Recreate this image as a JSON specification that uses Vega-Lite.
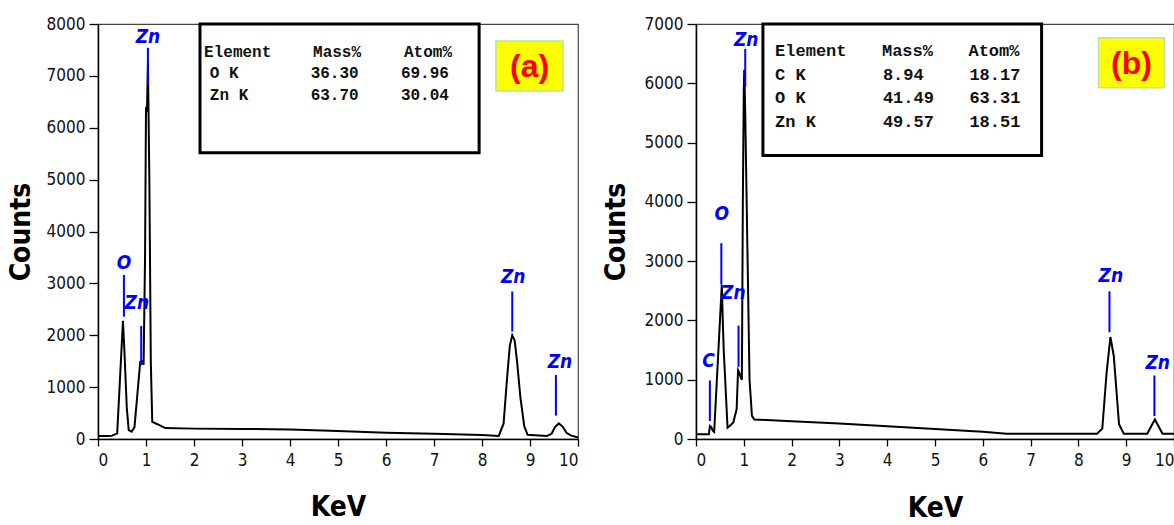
{
  "$schema": "https://vega.github.io/schema/vega-lite/v6.json",
  "background": "white",
  "padding": {"left": 6, "top": 14, "right": 0, "bottom": 0},
  "spacing": 18,
  "config": {
    "view": {"stroke": "#444", "strokeWidth": 1.2},
    "axis": {
      "grid": false,
      "domainColor": "#000",
      "domainWidth": 1.5,
      "tickColor": "#000",
      "tickWidth": 1.3,
      "labelFont": "DejaVu Sans Condensed",
      "labelFontSize": 17,
      "labelColor": "#111",
      "titleFont": "DejaVu Sans Condensed",
      "titleFontWeight": "bold",
      "titleFontSize": 28,
      "titleColor": "#000"
    }
  },
  "datasets": {
    "specA": [
      {"kev": 0, "counts": 60}, {"kev": 0.2, "counts": 60}, {"kev": 0.3, "counts": 65},
      {"kev": 0.4, "counts": 110}, {"kev": 0.52, "counts": 2280}, {"kev": 0.55, "counts": 1700},
      {"kev": 0.6, "counts": 600}, {"kev": 0.64, "counts": 170}, {"kev": 0.7, "counts": 140},
      {"kev": 0.76, "counts": 230}, {"kev": 0.88, "counts": 1490}, {"kev": 0.92, "counts": 1500},
      {"kev": 0.95, "counts": 1430}, {"kev": 0.98, "counts": 3500}, {"kev": 1.0, "counts": 6400},
      {"kev": 1.02, "counts": 6300}, {"kev": 1.04, "counts": 7250}, {"kev": 1.07, "counts": 5000},
      {"kev": 1.1, "counts": 1500}, {"kev": 1.13, "counts": 330}, {"kev": 1.25, "counts": 280},
      {"kev": 1.4, "counts": 210}, {"kev": 2, "counts": 200}, {"kev": 3, "counts": 195},
      {"kev": 4, "counts": 185}, {"kev": 5, "counts": 155}, {"kev": 6, "counts": 120},
      {"kev": 7, "counts": 100}, {"kev": 8, "counts": 75}, {"kev": 8.35, "counts": 60},
      {"kev": 8.45, "counts": 300}, {"kev": 8.52, "counts": 1150}, {"kev": 8.58, "counts": 1800},
      {"kev": 8.63, "counts": 2000}, {"kev": 8.68, "counts": 1900}, {"kev": 8.73, "counts": 1500},
      {"kev": 8.8, "counts": 800}, {"kev": 8.88, "counts": 250}, {"kev": 8.95, "counts": 80},
      {"kev": 9.35, "counts": 60}, {"kev": 9.45, "counts": 100}, {"kev": 9.52, "counts": 230},
      {"kev": 9.6, "counts": 300}, {"kev": 9.68, "counts": 240}, {"kev": 9.76, "counts": 120},
      {"kev": 9.85, "counts": 70}, {"kev": 10, "counts": 30}
    ],
    "specB": [
      {"kev": 0, "counts": 80}, {"kev": 0.27, "counts": 80}, {"kev": 0.29, "counts": 220},
      {"kev": 0.32, "counts": 200}, {"kev": 0.35, "counts": 140}, {"kev": 0.38, "counts": 120},
      {"kev": 0.54, "counts": 2600}, {"kev": 0.56, "counts": 2000}, {"kev": 0.58, "counts": 1500},
      {"kev": 0.66, "counts": 190}, {"kev": 0.72, "counts": 230}, {"kev": 0.78, "counts": 280},
      {"kev": 0.85, "counts": 500}, {"kev": 0.88, "counts": 1160}, {"kev": 0.9, "counts": 1130},
      {"kev": 0.93, "counts": 1050}, {"kev": 0.96, "counts": 1000}, {"kev": 0.98, "counts": 4000},
      {"kev": 1.0, "counts": 5900}, {"kev": 1.01, "counts": 6230}, {"kev": 1.03, "counts": 5500},
      {"kev": 1.08, "counts": 3000}, {"kev": 1.12, "counts": 1000}, {"kev": 1.17, "counts": 390},
      {"kev": 1.22, "counts": 330}, {"kev": 2, "counts": 300}, {"kev": 3, "counts": 260},
      {"kev": 4, "counts": 215}, {"kev": 5, "counts": 170}, {"kev": 6, "counts": 123},
      {"kev": 6.5, "counts": 90}, {"kev": 8.39, "counts": 90}, {"kev": 8.5, "counts": 175},
      {"kev": 8.59, "counts": 1120}, {"kev": 8.67, "counts": 1720}, {"kev": 8.74, "counts": 1400},
      {"kev": 8.85, "counts": 250}, {"kev": 8.95, "counts": 90}, {"kev": 9.44, "counts": 90},
      {"kev": 9.6, "counts": 330}, {"kev": 9.76, "counts": 90}, {"kev": 10, "counts": 90}
    ],
    "annA": [
      {"element": "Zn", "lx": 1.04, "ly": 7750, "x": 1.04, "y1": 7540, "y2": 6825},
      {"element": "O", "lx": 0.54, "ly": 3393, "x": 0.54, "y1": 3162, "y2": 2358},
      {"element": "Zn", "lx": 0.81, "ly": 2628, "x": 0.9, "y1": 2179, "y2": 1427},
      {"element": "Zn", "lx": 8.65, "ly": 3129, "x": 8.63, "y1": 2843, "y2": 2071},
      {"element": "Zn", "lx": 9.625, "ly": 1490, "x": 9.54, "y1": 1235, "y2": 450}
    ],
    "annB": [
      {"element": "Zn", "lx": 1.05, "ly": 6732, "x": 1.03, "y1": 6580, "y2": 5941},
      {"element": "O", "lx": 0.54, "ly": 3787, "x": 0.53, "y1": 3304, "y2": 2604},
      {"element": "Zn", "lx": 0.78, "ly": 2462, "x": 0.89, "y1": 1913, "y2": 1217},
      {"element": "C", "lx": 0.26, "ly": 1313, "x": 0.29, "y1": 988, "y2": 303},
      {"element": "Zn", "lx": 8.68, "ly": 2743, "x": 8.65, "y1": 2491, "y2": 1800},
      {"element": "Zn", "lx": 9.66, "ly": 1284, "x": 9.59, "y1": 1072, "y2": 387}
    ],
    "tableA": [
      {"x": 2.21, "y": 7467, "t": "Element"}, {"x": 4.48, "y": 7467, "t": "Mass%"}, {"x": 6.375, "y": 7467, "t": "Atom%"},
      {"x": 2.33, "y": 7062, "t": "O K"}, {"x": 4.43, "y": 7062, "t": "36.30"}, {"x": 6.31, "y": 7062, "t": "69.96"},
      {"x": 2.33, "y": 6632, "t": "Zn K"}, {"x": 4.43, "y": 6632, "t": "63.70"}, {"x": 6.31, "y": 6632, "t": "30.04"}
    ],
    "tableB": [
      {"x": 1.655, "y": 6542, "t": "Element"}, {"x": 3.89, "y": 6542, "t": "Mass%"}, {"x": 5.7, "y": 6542, "t": "Atom%"},
      {"x": 1.655, "y": 6138, "t": "C K"}, {"x": 3.91, "y": 6138, "t": "8.94"}, {"x": 5.72, "y": 6138, "t": "18.17"},
      {"x": 1.655, "y": 5744, "t": "O K"}, {"x": 3.91, "y": 5744, "t": "41.49"}, {"x": 5.72, "y": 5744, "t": "63.31"},
      {"x": 1.655, "y": 5352, "t": "Zn K"}, {"x": 3.91, "y": 5352, "t": "49.57"}, {"x": 5.72, "y": 5352, "t": "18.51"}
    ],
    "boxA": [{"x": 2.125, "x2": 7.94, "y": 8000, "y2": 5520}],
    "boxB": [{"x": 1.4, "x2": 7.23, "y": 7000, "y2": 4780}],
    "tagA": [{"x": 8.29, "x2": 9.69, "y": 7673, "y2": 6709, "cx": 8.99, "cy": 7191, "label": "(a)"}],
    "tagB": [{"x": 8.42, "x2": 9.8, "y": 6766, "y2": 5924, "cx": 9.11, "cy": 6345, "label": "(b)"}]
  },
  "hconcat": [
    {
      "width": 480,
      "height": 415,
      "layer": [
        {
          "data": {"name": "specA"},
          "mark": {"type": "line", "color": "#000", "strokeWidth": 2},
          "encoding": {
            "x": {"field": "kev", "type": "quantitative", "scale": {"domain": [0, 10], "nice": false},
              "axis": {"title": "KeV", "values": [0,0.5,1,1.5,2,2.5,3,3.5,4,4.5,5,5.5,6,6.5,7,7.5,8,8.5,9,9.5,10],
                "format": "d", "labelExpr": "datum.value % 1 === 0 ? datum.label : ''",
                "tickSize": {"condition": {"test": "datum.value % 1 === 0", "value": 7}, "value": 5},
                "labelPadding": 6, "titlePadding": 25}},
            "y": {"field": "counts", "type": "quantitative", "scale": {"domain": [0, 8000], "nice": false},
              "axis": {"title": "Counts", "values": [0,500,1000,1500,2000,2500,3000,3500,4000,4500,5000,5500,6000,6500,7000,7500,8000],
                "format": "d", "labelExpr": "datum.value % 1000 === 0 ? datum.label : ''",
                "tickSize": {"condition": {"test": "datum.value % 1000 === 0", "value": 9}, "value": 4},
                "labelPadding": 4, "titlePadding": 11}}
          }
        },
        {
          "data": {"name": "annA"},
          "mark": {"type": "rule", "color": "#0000ff", "strokeWidth": 2},
          "encoding": {
            "x": {"field": "x", "type": "quantitative"},
            "y": {"field": "y1", "type": "quantitative"},
            "y2": {"field": "y2"}
          }
        },
        {
          "data": {"name": "annA"},
          "mark": {"type": "text", "color": "#0000ff", "font": "DejaVu Sans Condensed", "fontSize": 19, "fontStyle": "italic", "fontWeight": "bold", "baseline": "middle", "align": "center"},
          "encoding": {
            "x": {"field": "lx", "type": "quantitative"},
            "y": {"field": "ly", "type": "quantitative"},
            "text": {"field": "element"}
          }
        },
        {
          "data": {"name": "boxA"},
          "mark": {"type": "rect", "fill": "#fff", "stroke": "#000", "strokeWidth": 3},
          "encoding": {
            "x": {"field": "x", "type": "quantitative"}, "x2": {"field": "x2"},
            "y": {"field": "y", "type": "quantitative"}, "y2": {"field": "y2"}
          }
        },
        {
          "data": {"name": "tableA"},
          "mark": {"type": "text", "font": "Liberation Mono", "fontWeight": "bold", "fontSize": 16, "color": "#111", "align": "left", "baseline": "middle"},
          "encoding": {
            "x": {"field": "x", "type": "quantitative"},
            "y": {"field": "y", "type": "quantitative"},
            "text": {"field": "t"}
          }
        },
        {
          "data": {"name": "tagA"},
          "mark": {"type": "rect", "fill": "#ffff00", "stroke": "#b8e4a0", "strokeWidth": 1.5},
          "encoding": {
            "x": {"field": "x", "type": "quantitative"}, "x2": {"field": "x2"},
            "y": {"field": "y", "type": "quantitative"}, "y2": {"field": "y2"}
          }
        },
        {
          "data": {"name": "tagA"},
          "mark": {"type": "text", "font": "Liberation Sans", "fontWeight": "bold", "fontSize": 32, "color": "#ff0000", "align": "center", "baseline": "middle", "dy": 1},
          "encoding": {
            "x": {"field": "cx", "type": "quantitative"},
            "y": {"field": "cy", "type": "quantitative"},
            "text": {"field": "label"}
          }
        }
      ]
    },
    {
      "width": 478,
      "height": 415,
      "layer": [
        {
          "data": {"name": "specB"},
          "mark": {"type": "line", "color": "#000", "strokeWidth": 2},
          "encoding": {
            "x": {"field": "kev", "type": "quantitative", "scale": {"domain": [0, 10], "nice": false},
              "axis": {"title": "KeV", "values": [0,0.5,1,1.5,2,2.5,3,3.5,4,4.5,5,5.5,6,6.5,7,7.5,8,8.5,9,9.5,10],
                "format": "d", "labelExpr": "datum.value % 1 === 0 ? datum.label : ''",
                "tickSize": {"condition": {"test": "datum.value % 1 === 0", "value": 7}, "value": 5},
                "labelPadding": 6, "titlePadding": 26}},
            "y": {"field": "counts", "type": "quantitative", "scale": {"domain": [0, 7000], "nice": false},
              "axis": {"title": "Counts", "values": [0,500,1000,1500,2000,2500,3000,3500,4000,4500,5000,5500,6000,6500,7000],
                "format": "d", "labelExpr": "datum.value % 1000 === 0 ? datum.label : ''",
                "tickSize": {"condition": {"test": "datum.value % 1000 === 0", "value": 9}, "value": 4},
                "labelPadding": 4, "titlePadding": 14}}
          }
        },
        {
          "data": {"name": "annB"},
          "mark": {"type": "rule", "color": "#0000ff", "strokeWidth": 2},
          "encoding": {
            "x": {"field": "x", "type": "quantitative"},
            "y": {"field": "y1", "type": "quantitative"},
            "y2": {"field": "y2"}
          }
        },
        {
          "data": {"name": "annB"},
          "mark": {"type": "text", "color": "#0000ff", "font": "DejaVu Sans Condensed", "fontSize": 19, "fontStyle": "italic", "fontWeight": "bold", "baseline": "middle", "align": "center"},
          "encoding": {
            "x": {"field": "lx", "type": "quantitative"},
            "y": {"field": "ly", "type": "quantitative"},
            "text": {"field": "element"}
          }
        },
        {
          "data": {"name": "boxB"},
          "mark": {"type": "rect", "fill": "#fff", "stroke": "#000", "strokeWidth": 3},
          "encoding": {
            "x": {"field": "x", "type": "quantitative"}, "x2": {"field": "x2"},
            "y": {"field": "y", "type": "quantitative"}, "y2": {"field": "y2"}
          }
        },
        {
          "data": {"name": "tableB"},
          "mark": {"type": "text", "font": "Liberation Mono", "fontWeight": "bold", "fontSize": 17, "color": "#111", "align": "left", "baseline": "middle"},
          "encoding": {
            "x": {"field": "x", "type": "quantitative"},
            "y": {"field": "y", "type": "quantitative"},
            "text": {"field": "t"}
          }
        },
        {
          "data": {"name": "tagB"},
          "mark": {"type": "rect", "fill": "#ffff00", "stroke": "#b8e4a0", "strokeWidth": 1.5},
          "encoding": {
            "x": {"field": "x", "type": "quantitative"}, "x2": {"field": "x2"},
            "y": {"field": "y", "type": "quantitative"}, "y2": {"field": "y2"}
          }
        },
        {
          "data": {"name": "tagB"},
          "mark": {"type": "text", "font": "Liberation Sans", "fontWeight": "bold", "fontSize": 32, "color": "#ff0000", "align": "center", "baseline": "middle", "dy": 1},
          "encoding": {
            "x": {"field": "cx", "type": "quantitative"},
            "y": {"field": "cy", "type": "quantitative"},
            "text": {"field": "label"}
          }
        }
      ]
    }
  ]
}
